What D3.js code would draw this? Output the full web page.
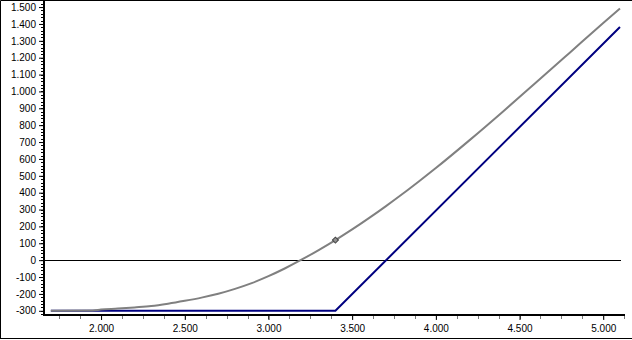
<!DOCTYPE html>
<html><head><meta charset="utf-8">
<script src="https://cdn.jsdelivr.net/npm/d3@7"></script>
<style>
html,body{margin:0;padding:0;background:#fff;}
svg{display:block;}
text{font-family:"Liberation Sans",Arial,sans-serif;font-size:10px;fill:#000;}
</style></head>
<body>
<script>
// Data
const xTicks = [2.0, 2.5, 3.0, 3.5, 4.0, 4.5, 5.0];
const yTicks = [-300,-200,-100,0,100,200,300,400,500,600,700,800,900,1000,1100,1200,1300,1400,1500];
const grayX = [1.70, 1.95, 2.00, 2.10, 2.20, 2.30, 2.40, 2.50, 2.60, 2.70, 2.80, 2.90, 3.00, 3.10, 3.20, 3.30, 3.40, 3.50, 3.60, 3.70, 3.80, 3.90, 4.00, 4.20, 4.40, 4.60, 4.80, 5.00, 5.10];
const grayY = [-300, -298, -293, -287, -280, -272, -258, -241, -222, -199, -170, -136, -95, -48, 4, 60, 119, 182, 249, 319, 392, 468, 546, 710, 880, 1055, 1230, 1405, 1492];
const navyX = [1.70, 3.40, 5.10];
const navyY = [-300, -300, 1382];
const markerX = [3.40];
const markerY = [119];

const W = 632, H = 340;
const svg = d3.select("body").append("svg").attr("width", W).attr("height", H);
svg.append("rect").attr("x",0).attr("y",0).attr("width",W).attr("height",H).attr("fill","#fff");
// frame
svg.append("path").attr("d","M0.5,339 V0.5 H632").attr("stroke","#000").attr("fill","none");
svg.append("line").attr("x1",0).attr("x2",W).attr("y1",338.5).attr("y2",338.5).attr("stroke","#000");

const x = d3.scaleLinear().domain([1.665, 5.13]).range([45, 625]);
const y = d3.scaleLinear().domain([-325, 1536]).range([315, 1]);

const loc = d3.formatLocale({decimal:",", thousands:".", grouping:[3], currency:["",""], minus:"-"});
const fx = d3.format(".3f");
const fy = loc.format(",d");

// zero line
svg.append("line").attr("x1",45).attr("x2",621).attr("y1",Math.round(y(0))+0.5).attr("y2",Math.round(y(0))+0.5).attr("stroke","#000").attr("stroke-width",1);

// lines
const line = d3.line().x(d=>x(d[0])).y(d=>y(d[1]));
const navy = navyX.map((v,i)=>[v,navyY[i]]);
const gray = grayX.map((v,i)=>[v,grayY[i]]);
svg.append("path").attr("d", line(navy)).attr("fill","none").attr("stroke","#000080").attr("stroke-width",2);
svg.append("path").attr("d", line.curve(d3.curveMonotoneX)(gray)).attr("fill","none").attr("stroke","#808080").attr("stroke-width",2);

// marker
markerX.forEach((v,i)=>{
  const cx = x(v), cy = y(markerY[i]);
  svg.append("path").attr("d", d3.symbol(d3.symbolSquare, 18)()).attr("transform",`translate(${cx},${cy}) rotate(45)`)
    .attr("fill","#909090").attr("stroke","#404040").attr("stroke-width",1);
});

// y axis
const yMinor = d3.range(-320, 1540, 20).filter(v=>v>=-325 && v<=1536);
svg.append("g").selectAll("line").data(yMinor).join("line")
  .attr("x1",41).attr("x2",43).attr("y1",d=>Math.round(y(d))+0.5).attr("y2",d=>Math.round(y(d))+0.5).attr("stroke","#000");
const yAxis = d3.axisLeft(y).tickValues(yTicks).tickFormat(fy).tickSize(4).tickPadding(3);
const gy = svg.append("g").attr("transform","translate(43,0)").call(yAxis);
gy.select(".domain").remove();
gy.selectAll("text").style("font-size","10px").style("font-family","Liberation Sans, Arial, sans-serif");
svg.append("line").attr("x1",44).attr("x2",44).attr("y1",1).attr("y2",316).attr("stroke","#000").attr("stroke-width",2);

// x axis
const xMinor = d3.range(1.75, 5.13, 0.125);
svg.append("g").selectAll("line").data(xMinor).join("line")
  .attr("x1",d=>Math.round(x(d))+0.5).attr("x2",d=>Math.round(x(d))+0.5).attr("y1",316).attr("y2",319).attr("stroke","#777");
const xAxis = d3.axisBottom(x).tickValues(xTicks).tickFormat(fx).tickSize(4).tickPadding(5);
const gx = svg.append("g").attr("transform","translate(0,316)").call(xAxis);
gx.select(".domain").remove();
gx.selectAll("text").style("font-size","10px").style("font-family","Liberation Sans, Arial, sans-serif");
svg.append("line").attr("x1",43).attr("x2",625).attr("y1",315).attr("y2",315).attr("stroke","#000").attr("stroke-width",2);
</script>
</body></html>
